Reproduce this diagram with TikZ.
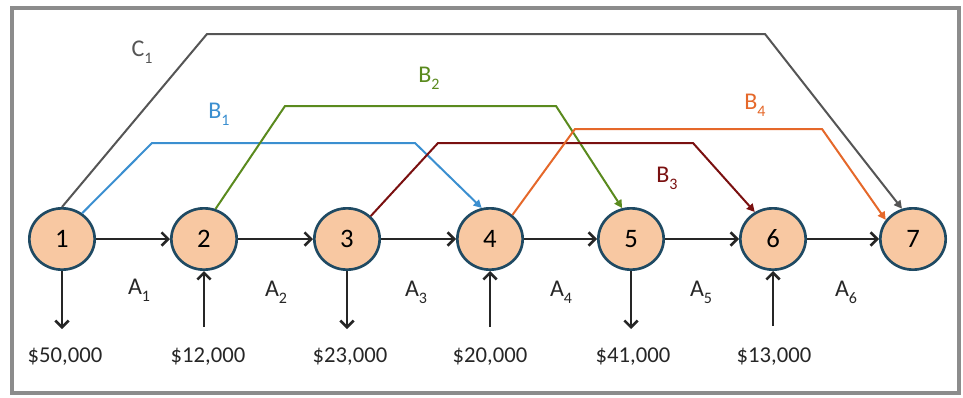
\documentclass[tikz,border=0pt]{standalone}
\usepackage{fontspec}
\setmainfont{Carlito}
\usetikzlibrary{shapes.geometric,arrows.meta}
\definecolor{nodefill}{HTML}{F8C8A2}
\definecolor{nodeline}{HTML}{1F4A63}
\definecolor{darkline}{HTML}{262626}
\definecolor{cgray}{HTML}{555555}
\definecolor{bblue}{HTML}{3B8FD0}
\definecolor{bgreen}{HTML}{5A8A1E}
\definecolor{bred}{HTML}{7A1010}
\definecolor{borange}{HTML}{E5682A}
\definecolor{framegray}{HTML}{8C8C8C}
\newcommand{\lowsub}[1]{\raisebox{-0.28em}{\fontsize{12}{13}\selectfont #1}}
\tikzset{
  stnode/.style={ellipse, draw=nodeline, fill=nodefill, line width=2pt,
    minimum width=49pt, minimum height=46pt, inner sep=0pt, font=\fontsize{20}{24}\selectfont},
  flow/.style={draw=darkline, line width=1.9pt, -{Straight Barb[length=5pt,width=10pt]}},
  lbl/.style={font=\fontsize{18}{22}\selectfont, text=darkline},
  money/.style={font=\fontsize{17}{20}\selectfont, text=darkline},
  bypass/.style={line width=1.5pt, line join=miter, -{Triangle[length=6pt,width=6pt]}},
}
\begin{document}
\begin{tikzpicture}[x=0.75pt,y=-0.75pt]
\useasboundingbox (0,0) rectangle (963,397);
\draw[framegray, line width=2.4pt] (12,8) rectangle (959,393);
% nodes
\node[stnode] (n1) at (62,239) {1};
\node[stnode] (n2) at (204,239) {2};
\node[stnode] (n3) at (347,239) {3};
\node[stnode] (n4) at (490,239) {4};
\node[stnode] (n5) at (631,239) {5};
\node[stnode] (n6) at (773,239) {6};
\node[stnode] (n7) at (913,239) {7};
% main flow
\draw[flow] (n1) -- (n2);
\draw[flow] (n2) -- (n3);
\draw[flow] (n3) -- (n4);
\draw[flow] (n4) -- (n5);
\draw[flow] (n5) -- (n6);
\draw[flow] (n6) -- (n7);
% A labels
\node[lbl] (a1) at (139,290) {A\lowsub{1}};
\node[lbl] (a2) at (276,292) {A\lowsub{2}};
\node[lbl] (a3) at (416,292) {A\lowsub{3}};
\node[lbl] (a4) at (561,292) {A\lowsub{4}};
\node[lbl] (a5) at (701,292) {A\lowsub{5}};
\node[lbl] (a6) at (846,292) {A\lowsub{6}};
% external flows
\coordinate (e1) at (62,329);
\coordinate (e2) at (204,327);
\coordinate (e3) at (347,329);
\coordinate (e4) at (490,327);
\coordinate (e5) at (631,329);
\coordinate (e6) at (773,326);
\draw[flow] (n1) -- (e1);
\draw[flow] (e2) -- (n2);
\draw[flow] (n3) -- (e3);
\draw[flow] (e4) -- (n4);
\draw[flow] (n5) -- (e5);
\draw[flow] (e6) -- (n6);
\node[money] (m1) at (65,357) {\$50,000};
\node[money] (m2) at (208,357) {\$12,000};
\node[money] (m3) at (350,357) {\$23,000};
\node[money] (m4) at (490,357) {\$20,000};
\node[money] (m5) at (633,357) {\$41,000};
\node[money] (m6) at (774,357) {\$13,000};
% bypass connectors
\draw[bypass, cgray] (n1.north) -- (207,34) -- (765,34) -- (n7.110);
\draw[bypass, bblue] (n1.52) -- (152,143) -- (415,143) -- (n4.105);
\draw[bypass, bgreen] (n2.69) -- (285,106) -- (556,106) -- (n5.106);
\draw[bypass, bred] (n3.44) -- (438,143) -- (693,143) -- (n6.124);
\draw[bypass, borange] (n4.47) -- (575,129) -- (822,129) -- (n7.145);
% bypass labels
\node[lbl, text=cgray] (lc1) at (142,52) {C\lowsub{1}};
\node[lbl, text=bblue] (lb1) at (219,114) {B\lowsub{1}};
\node[lbl, text=bgreen] (lb2) at (429,78) {B\lowsub{2}};
\node[lbl, text=bred] (lb3) at (667,178) {B\lowsub{3}};
\node[lbl, text=borange] (lb4) at (755,105) {B\lowsub{4}};
\end{tikzpicture}
\end{document}
